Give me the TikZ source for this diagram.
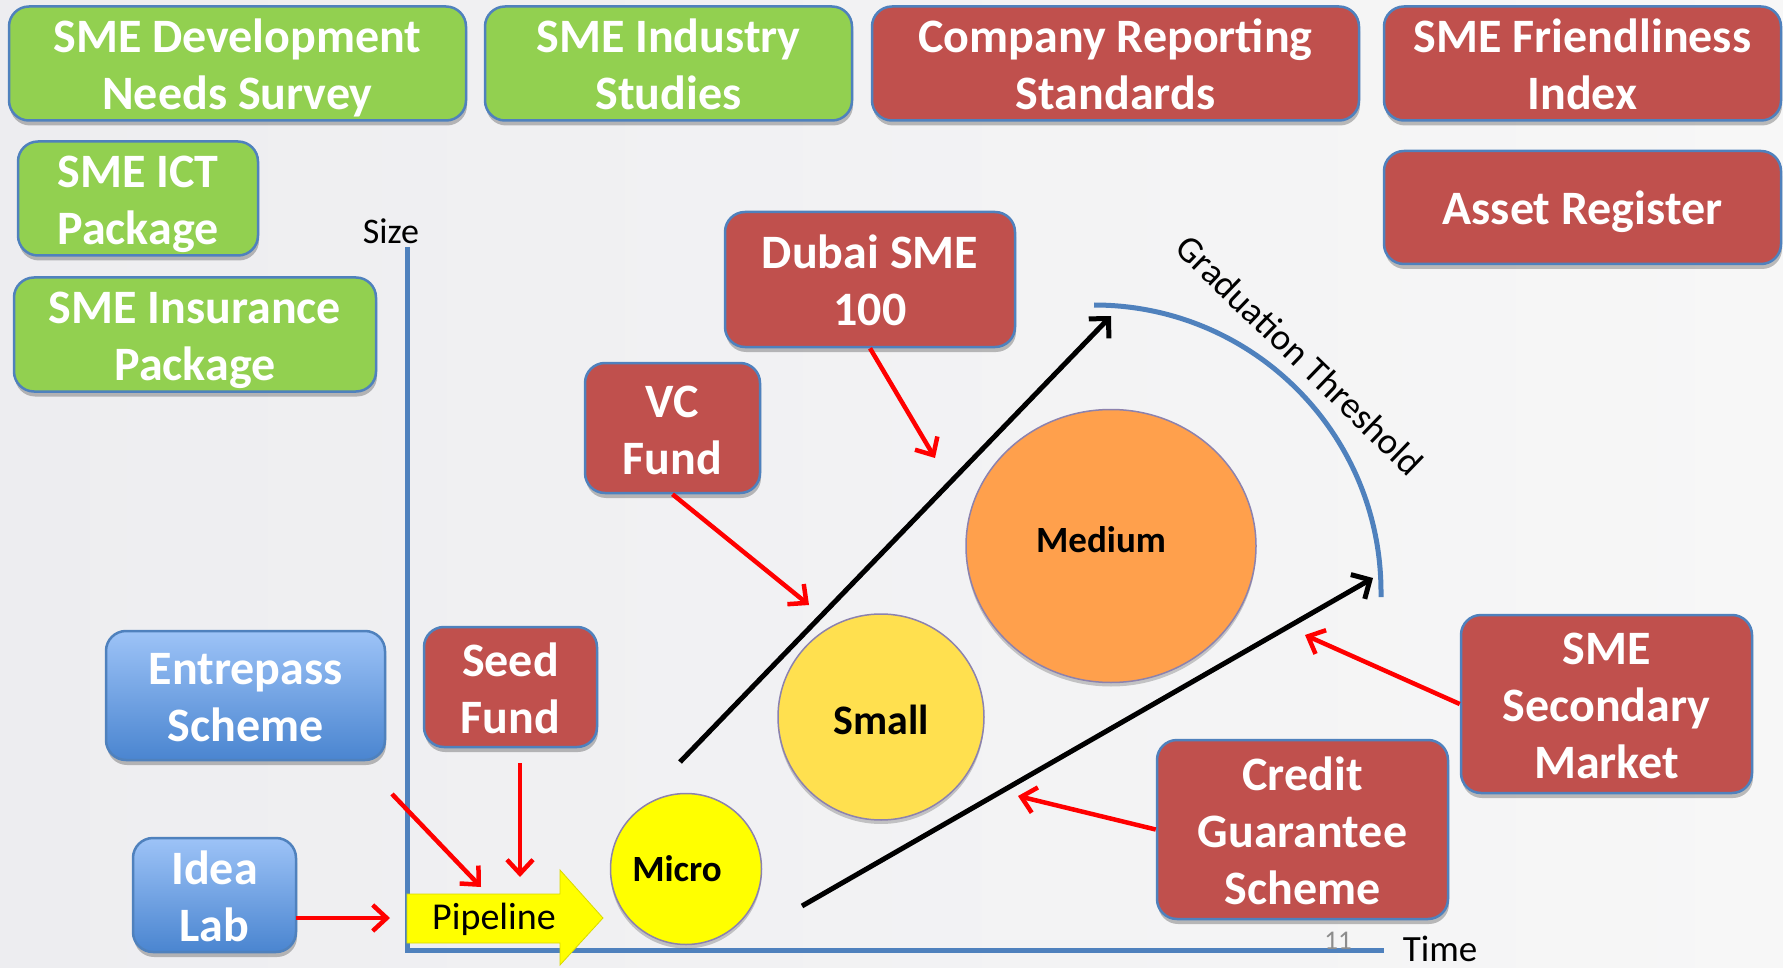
\documentclass[tikz,border=0pt]{standalone}
\usepackage{fontspec}
\setmainfont{Carlito}
\usetikzlibrary{arrows.meta,shapes.geometric,shadows}
\definecolor{bgL}{HTML}{EDEDF0}
\definecolor{bgR}{HTML}{F7F7F7}
\definecolor{gfill}{HTML}{92D050}
\definecolor{rfill}{HTML}{C0504D}
\definecolor{bord}{HTML}{4F81BD}
\definecolor{bTop}{HTML}{9DC3F7}
\definecolor{bBot}{HTML}{4A85D0}
\definecolor{axisblue}{HTML}{4F81BD}
\definecolor{microc}{HTML}{FFFF00}
\definecolor{smallc}{HTML}{FFE04F}
\definecolor{medc}{HTML}{FFA04C}
\definecolor{ballb}{HTML}{8C82AE}
\definecolor{pagenum}{HTML}{8C8C8C}
\definecolor{pipec}{HTML}{FFFF00}
\newcommand{\bottomstrut}{\rule[-11pt]{0pt}{11pt}}
\newcommand{\ts}{\rule{0pt}{46pt}}
\begin{document}
\begin{tikzpicture}[x=1pt,y=-1pt,
  box/.style={rounded corners=20pt, draw=bord, line width=2.5pt, text=white,
    font=\fontsize{48}{57}\selectfont\bfseries, align=center, inner sep=0pt,
    execute at end node={\bottomstrut},
    drop shadow={shadow xshift=1pt, shadow yshift=-5pt, opacity=0.25, fill=black}},
  gbox/.style={box, fill=gfill},
  rbox/.style={box, fill=rfill},
  bluebox/.style={box, top color=bTop, bottom color=bBot},
  ball/.style={draw=ballb, line width=1.5pt, inner sep=0pt,
    drop shadow={shadow xshift=0pt, shadow yshift=-4pt, opacity=0.2, fill=black}},
  balltext/.style={font=\fontsize{37}{40}\selectfont\bfseries, text=black, inner sep=0pt},
  plain/.style={font=\fontsize{36}{40}\selectfont, text=black, inner sep=0pt},
  redarr/.style={draw=red, line width=4.5pt, -{Straight Barb[length=14pt,width=26pt]}},
  blackarr/.style={draw=black, line width=5pt, -{Straight Barb[length=14pt,width=28pt]}},
  axisline/.style={draw=axisblue, line width=5pt},
]
\useasboundingbox (0,0) rectangle (1783,968);
\shade[left color=bgL, right color=bgR] (0,0) rectangle (1783,968);

% axes
\draw[axisline] (407,247) -- (407,950) -- (1384,950);
\node[plain] (size) at (391,231) {Size};
\node[plain, font=\fontsize{37}{40}\selectfont] (time) at (1440,949) {Time};
\node[font=\fontsize{27}{30}\selectfont, text=pagenum, inner sep=0pt] (pnum) at (1338,941) {11};

% graduation threshold
\draw[draw=axisblue, line width=5pt] (1094,305) arc[start angle=90, end angle=0, radius=287pt] -- ++(0,5);
\node[plain, font=\fontsize{37}{40}\selectfont, rotate=-44] (grad) at (1300,355) {Graduation Threshold};

% pipeline arrow
\fill[pipec, draw=pipec!85!black, line width=0.8pt] (407,894) -- (560,894) -- (560,870) -- (603,918) -- (560,965) -- (560,943) -- (407,943) -- cycle;
\node[font=\fontsize{38}{40}\selectfont, text=black, inner sep=0pt] (pipe) at (494,919) {Pipeline};

% bubbles
\node[ball, circle, fill=microc, minimum size=151pt] (micro) at (686,869) {};
\node[ball, circle, fill=smallc, minimum size=206pt] (small) at (881,717) {};
\node[ball, ellipse, fill=medc, minimum width=290pt, minimum height=273pt] (medium) at (1111,546) {};
\node[balltext] (microt) at (677,869) {Micro};
\node[balltext, font=\fontsize{42}{44}\selectfont\bfseries] (smallt) at (881,720) {Small};
\node[balltext] (mediumt) at (1101,540) {Medium};

% growth arrows
\coordinate (g1s) at (680,762);
\coordinate (g1e) at (1111,316);
\coordinate (g2s) at (802,906);
\coordinate (g2e) at (1373,578);
\draw[blackarr] (g1s) -- (g1e);
\draw[blackarr] (g2s) -- (g2e);

% boxes
\node[gbox, minimum width=457pt, minimum height=111pt] (dev) at (237.5,63.5) {\ts SME Development\\Needs Survey};
\node[gbox, minimum width=367pt, minimum height=111pt] (ind) at (668.5,63.5) {\ts SME Industry\\Studies};
\node[rbox, minimum width=487pt, minimum height=111pt] (crs) at (1115.5,63.5) {\ts Company Reporting\\Standards};
\node[rbox, minimum width=397pt, minimum height=111pt] (sfi) at (1582.5,63.5) {\ts SME Friendliness\\Index};
\node[rbox, minimum width=397pt, minimum height=113pt] (asset) at (1582.5,207.5) {\ts Asset Register};
\node[gbox, minimum width=240pt, minimum height=113pt] (ict) at (138,198.5) {\ts SME ICT\\Package};
\node[gbox, minimum width=362pt, minimum height=113pt] (ins) at (195,334.5) {\ts SME Insurance\\Package};
\node[rbox, minimum width=290pt, minimum height=135pt] (dubai) at (870,279.5) {\ts Dubai SME\\100};
\node[rbox, minimum width=175pt, minimum height=130pt] (vc) at (672.5,428) {\ts VC\\Fund};
\node[rbox, minimum width=173pt, minimum height=120pt] (seed) at (510.5,687) {\ts Seed\\Fund};
\node[rbox, minimum width=291pt, minimum height=179pt] (cgs) at (1302.5,829.5) {\ts Credit\\Guarantee\\Scheme};
\node[rbox, minimum width=291pt, minimum height=178pt] (ssm) at (1606.5,704) {\ts SME\\Secondary\\Market};
\node[bluebox, minimum width=279pt, minimum height=129pt] (entre) at (245.5,695.5) {\ts Entrepass\\Scheme};
\node[bluebox, minimum width=163pt, minimum height=114pt] (idea) at (214.5,895) {\ts Idea\\Lab};

% red arrows
\coordinate (ideaS) at (296,918);
\coordinate (ideaE) at (390,918);
\coordinate (entS) at (392,794);
\coordinate (entE) at (481,887);
\coordinate (seedS) at (520,763);
\coordinate (seedE) at (520,877);
\coordinate (vcE) at (809,605);
\coordinate (dubE) at (935,458);
\coordinate (ssmE) at (1305,635);
\coordinate (cgsE) at (1018,796);
\draw[redarr] (ideaS) -- (ideaE);
\draw[redarr] (entS) -- (entE);
\draw[redarr] (seedS) -- (seedE);
\draw[redarr] (vc.south) -- (vcE);
\draw[redarr] (dubai.south) -- (dubE);
\draw[redarr] (ssm.west) -- (ssmE);
\draw[redarr] (cgs.west) -- (cgsE);
\end{tikzpicture}
\end{document}
